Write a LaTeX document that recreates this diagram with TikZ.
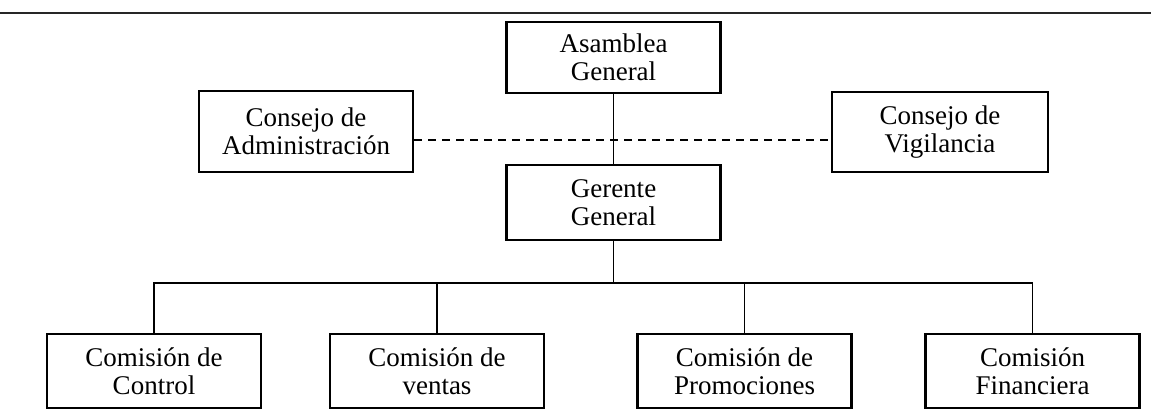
\documentclass[tikz,border=0pt]{standalone}
\usepackage{fontspec}
\setmainfont{Liberation Serif}
\usetikzlibrary{calc}

\tikzset{
	caja/.style={draw,line width=2.8pt,rectangle,align=center,
		minimum width=214pt,inner sep=0pt,
		font=\fontsize{27}{28.5}\selectfont},
	linea/.style={line width=1.8pt},
}

\begin{document}
\begin{tikzpicture}[x=1pt,y=-1pt]
\useasboundingbox[fill=white] (0,0) rectangle (1151,409);

\draw[line width=2.6pt,color=black!85] (0,13) -- (1151,13);

\node[caja,minimum height=71pt] (asam) at (613.5,57.5) {Asamblea\\General};
\node[caja,minimum height=75pt] (ger) at (613.5,202.5) {Gerente\\General};
\node[caja,minimum height=81pt] (adm) at (306,131.5) {Consejo de\\Administración};
\node[caja,minimum height=80pt,minimum width=216pt] (vig) at (940,132) {Consejo de\\Vigilancia};

\node[caja,minimum height=74pt] (ctl) at (154,371) {Comisión de\\Control};
\node[caja,minimum height=74pt] (ven) at (437,371) {Comisión de\\ventas};
\node[caja,minimum height=74pt] (pro) at (744.5,371) {Comisión de\\Promociones};
\node[caja,minimum height=74pt] (fin) at (1032.5,371) {Comisión\\Financiera};

\draw[linea] (asam.south) -- (ger.north);
\draw[linea,dash pattern=on 8pt off 6pt]
	([yshift=-8.5pt]adm.east) -- ([yshift=-8pt]vig.west);

\coordinate (bus) at (613.5,283);
\draw[linea] (ger.south) -- (bus);
\foreach \c in {ctl,ven,pro,fin}{
	\draw[linea] (bus) -| (\c.north);
}

\end{tikzpicture}
\end{document}
